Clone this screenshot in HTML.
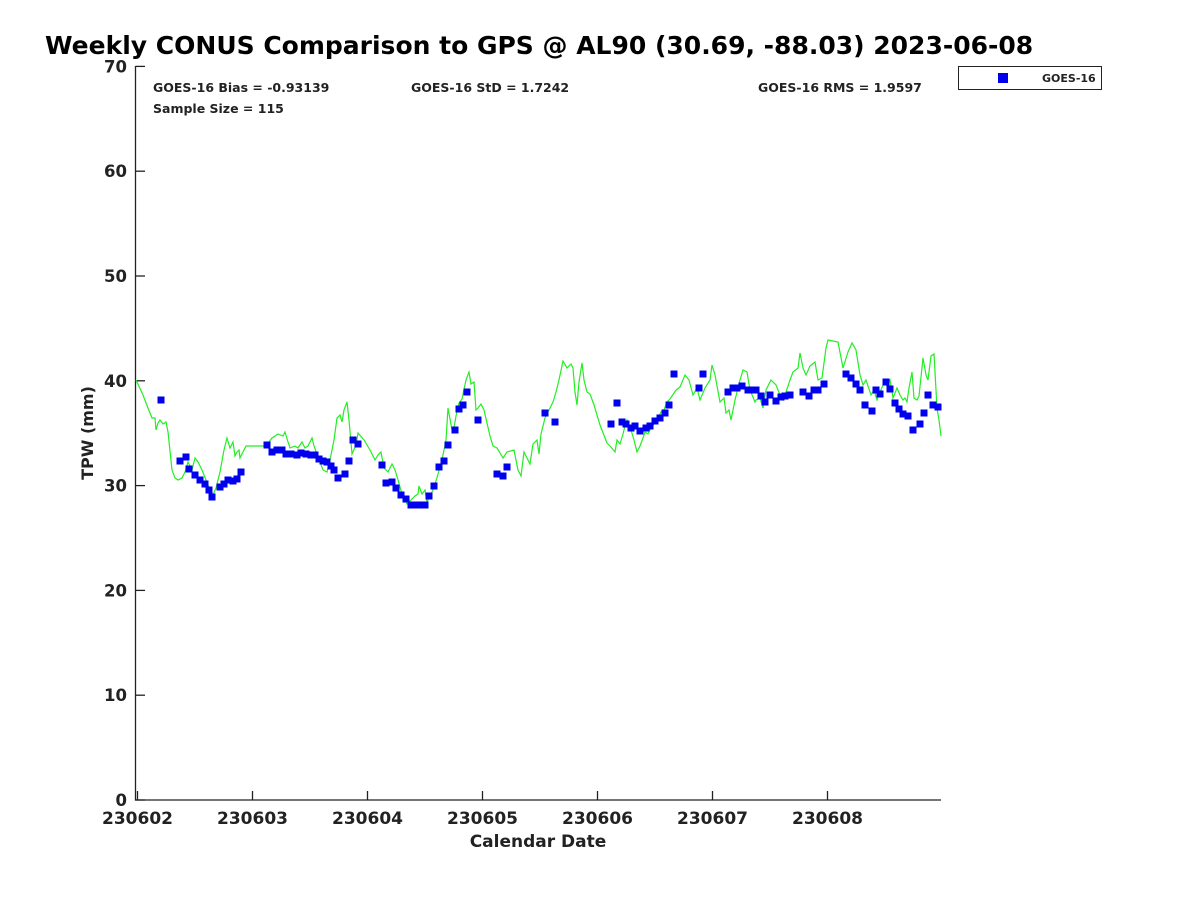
<!DOCTYPE html>
<html><head><meta charset="utf-8"><style>
body{margin:0;background:#fff;width:1200px;height:900px;overflow:hidden}
svg{display:block}
text{font-family:"DejaVu Sans","Liberation Sans",sans-serif;font-weight:bold;fill:#222}
</style></head><body>
<svg id="s" width="1200" height="900" xmlns="http://www.w3.org/2000/svg">
<rect width="1200" height="900" fill="#fff"/>
<text x="45" y="54" font-size="25" style="fill:#000">Weekly CONUS Comparison to GPS @ AL90 (30.69, -88.03) 2023-06-08</text>
<text x="153" y="92" font-size="12.5">GOES-16 Bias = -0.93139</text>
<text x="411" y="92" font-size="12.5">GOES-16 StD = 1.7242</text>
<text x="758" y="92" font-size="12.5">GOES-16 RMS = 1.9597</text>
<text x="153" y="113" font-size="12.5">Sample Size = 115</text>
<rect x="958.5" y="66.5" width="143" height="23" fill="#fff" stroke="#222" stroke-width="1"/>
<rect x="998" y="73" width="10" height="10" fill="#0000ee"/>
<text x="1042" y="82" font-size="11">GOES-16</text>
<g id="ax" stroke="#222" stroke-width="1.3" fill="none">
<path d="M135.5 66 V800 H941"/>
</g>
<text x="538" y="847" font-size="17" text-anchor="middle">Calendar Date</text>
<text transform="translate(93,433) rotate(-90)" font-size="16" text-anchor="middle">TPW (mm)</text>
<polyline fill="none" stroke="#22ee22" stroke-width="1.2" points="136,380 143,395 148,408 152,418 155,418 156,430 158,423 160,420 163,424 166,422 168,432 172,470 175,478 178,480 182,478 185,472 188,462 192,470 195,458 198,462 202,470 206,480 210,490 212,497 216,488 220,472 224,450 227,438 230,448 233,442 235,456 237,452 239,450 240,458 246,446 266,446 272,438 278,434 283,436 285,432 288,442 290,448 295,446 298,448 302,442 305,448 308,446 310,442 312,438 314,446 320,462 323,470 327,472 331,455 334,440 337,418 340,415 342,422 344,410 347,402 349,420 352,454 356,445 358,433 364,440 370,450 375,460 378,455 381,452 384,468 388,472 392,464 395,470 398,480 402,494 407,504 410,501 415,496 418,494 419,486 422,494 425,490 427,502 430,496 434,488 438,474 442,460 446,440 448,408 452,430 454,428 456,416 459,403 462,399 466,380 469,372 471,384 474,382 476,410 478,408 481,404 484,410 490,436 493,446 497,448 503,458 507,452 514,450 518,470 521,476 524,452 530,464 533,444 537,440 539,454 541,434 545,418 548,412 553,402 556,392 559,380 563,361 567,368 571,364 573,368 575,392 577,405 579,382 582,363 584,380 587,392 590,394 594,405 600,425 607,443 610,446 615,452 617,440 620,444 623,434 625,426 627,420 631,430 634,440 637,452 640,446 643,438 645,432 648,434 651,428 654,424 658,418 661,412 664,410 667,402 670,399 676,390 680,387 685,375 689,380 693,395 697,388 700,400 705,388 710,380 712,365 715,375 720,402 724,398 726,413 729,410 731,420 735,400 740,380 743,370 747,372 750,390 755,402 756,400 760,398 763,408 766,390 771,380 776,385 780,395 783,400 786,392 790,380 793,372 798,368 800,353 803,368 806,375 810,366 815,362 818,380 822,378 826,348 828,340 838,342 843,368 848,352 852,343 856,350 860,375 863,385 866,380 871,395 874,390 877,400 880,392 884,383 887,386 890,380 893,398 897,388 900,395 903,400 905,398 907,402 909,388 912,372 914,398 917,400 919,396 923,358 926,375 928,380 931,356 934,354 937,408 939,420 941,436"/>
<g id="pts" fill="#0000ee"></g>
</svg>
<script>
var NS="http://www.w3.org/2000/svg",s=document.getElementById('s'),ax=document.getElementById('ax'),pts=document.getElementById('pts');
function el(t,a,p,txt){var e=document.createElementNS(NS,t);for(var k in a)e.setAttribute(k,a[k]);if(txt)e.textContent=txt;(p||s).appendChild(e);return e;}
for(var i=0;i<=7;i++){var y=800-i*104.8;el('path',{d:'M135.5 '+y+' H145'},ax);el('text',{x:127,y:y+6,'font-size':16.5,'text-anchor':'end'},s,String(i*10));}
var lab=['230602','230603','230604','230605','230606','230607','230608'];
for(var i=0;i<7;i++){var x=137.5+i*115;el('path',{d:'M'+x+' 800 V791'},ax);el('text',{x:x,y:824,'font-size':17,'text-anchor':'middle'},s,lab[i]);}
var P=[161,400,180,461,186,457,189,469,195,475,200,480,205,484,209,490,212,497,220,487,224,484,228,480,233,481,237,479,241,472,267,445,272,452,277,450,282,450,286,454,291,454,297,455,301,453,306,454,311,455,315,455,319,459,323,461,327,462,331,466,334,470,338,478,345,474,349,461,353,440,358,444,382,465,386,483,392,482,396,488,401,495,406,499,411,505,415,505,420,505,425,505,429,496,434,486,439,467,444,461,448,445,455,430,459,409,463,405,467,392,478,420,497,474,503,476,507,467,545,413,555,422,611,424,617,403,622,422,626,424,631,428,635,426,640,431,646,428,650,426,655,421,660,418,665,413,669,405,674,374,699,388,703,374,728,392,733,388,737,388,742,386,748,390,752,390,756,390,761,396,765,402,770,395,776,401,781,397,785,396,790,395,803,392,809,396,814,390,818,390,824,384,846,374,851,378,856,384,860,390,865,405,872,411,876,390,880,394,886,382,890,389,895,403,899,409,903,414,908,416,913,430,920,424,924,413,928,395,933,405,938,407];
for(var i=0;i<P.length;i+=2)el('rect',{x:P[i]-3.5,y:P[i+1]-3.5,width:7,height:7},pts);
</script>
</body></html>
